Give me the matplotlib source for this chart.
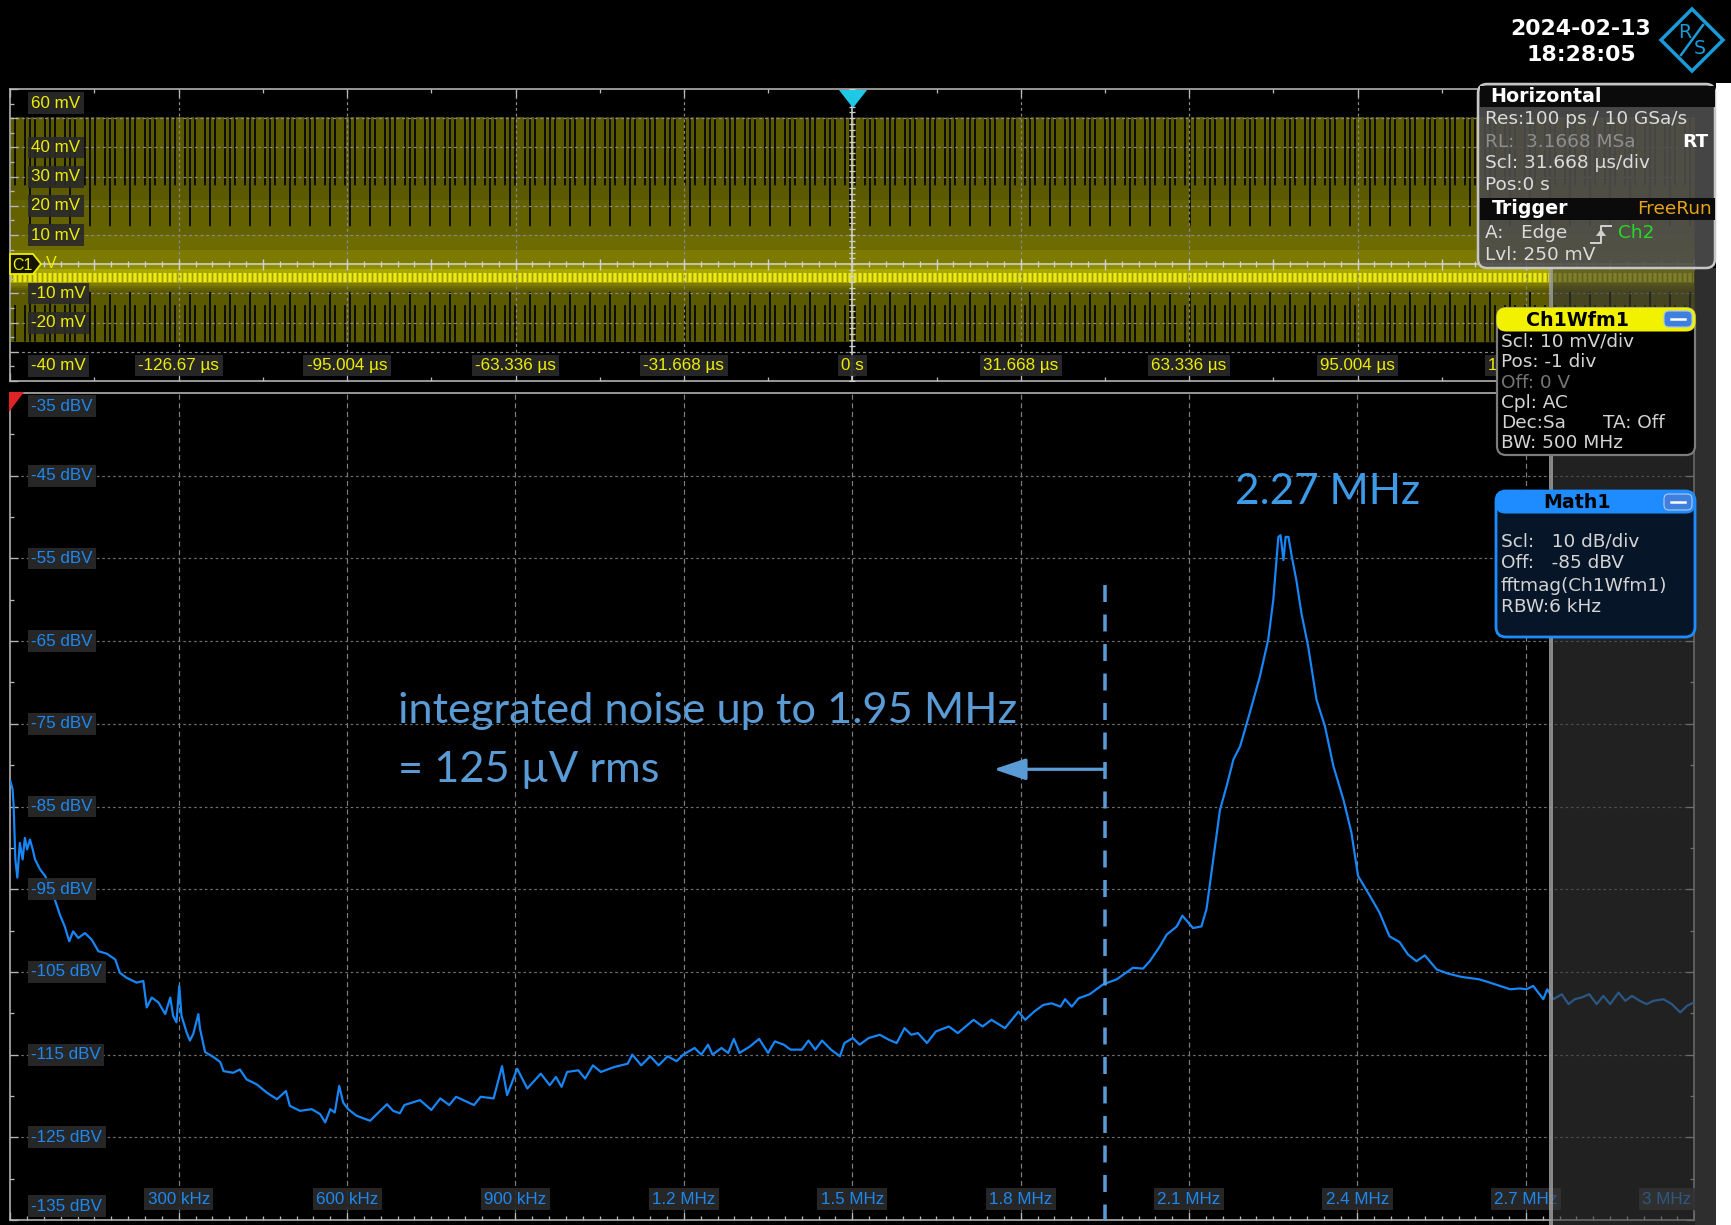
import numpy as np
import matplotlib
matplotlib.use("Agg")
import matplotlib.pyplot as plt
from matplotlib import transforms
from matplotlib.patches import Rectangle, FancyBboxPatch, Polygon

W, H, DPI = 1731, 1225, 120


def pt(px):
    # size in screen pixels -> points at the figure dpi
    return px * 72.0 / DPI


def fig_box(x0, y0, x1, y1):
    # pixel box (top-left origin) -> figure fraction rect
    return [x0 / W, 1 - y1 / H, (x1 - x0) / W, (y1 - y0) / H]


# ---------------- spectrum trace (fftmag Ch1Wfm1) ----------------
freq_mhz = [
    0.000, 0.004, 0.006, 0.009, 0.0125, 0.017, 0.022, 0.026, 0.030, 0.035,
    0.040, 0.044, 0.053, 0.062, 0.071, 0.080, 0.089, 0.097, 0.105, 0.112,
    0.121, 0.133, 0.145, 0.157, 0.172, 0.187, 0.195, 0.207, 0.225, 0.237,
    0.243, 0.252, 0.264, 0.276, 0.285, 0.290, 0.296, 0.301, 0.305, 0.314,
    0.320, 0.326, 0.335, 0.338, 0.347, 0.362, 0.374, 0.380, 0.397, 0.409,
    0.421, 0.439, 0.457, 0.475, 0.491, 0.498, 0.516, 0.537, 0.552, 0.561,
    0.570, 0.578, 0.586, 0.593, 0.602, 0.617, 0.641, 0.653, 0.671, 0.682,
    0.694, 0.702, 0.730, 0.750, 0.766, 0.782, 0.794, 0.826, 0.838, 0.861,
    0.876, 0.885, 0.893, 0.903, 0.921, 0.945, 0.961, 0.972, 0.982, 0.992,
    1.012, 1.024, 1.038, 1.052, 1.076, 1.100, 1.108, 1.124, 1.140, 1.155,
    1.171, 1.187, 1.199, 1.219, 1.231, 1.243, 1.251, 1.267, 1.279, 1.289,
    1.299, 1.318, 1.334, 1.350, 1.362, 1.378, 1.390, 1.410, 1.422, 1.434,
    1.446, 1.462, 1.478, 1.486, 1.501, 1.513, 1.529, 1.549, 1.565, 1.579,
    1.593, 1.605, 1.617, 1.633, 1.649, 1.672, 1.688, 1.716, 1.732, 1.748,
    1.772, 1.796, 1.808, 1.824, 1.840, 1.855, 1.871, 1.879, 1.891, 1.903,
    1.923, 1.939, 1.947, 1.971, 2.000, 2.018, 2.030, 2.048, 2.060, 2.078,
    2.088, 2.107, 2.122, 2.131, 2.143, 2.155, 2.167, 2.179, 2.191, 2.208,
    2.226, 2.241, 2.250, 2.259, 2.263, 2.268, 2.272, 2.277, 2.283, 2.291,
    2.300, 2.312, 2.327, 2.342, 2.357, 2.375, 2.389, 2.401, 2.422, 2.439,
    2.457, 2.475, 2.490, 2.505, 2.520, 2.541, 2.561, 2.585, 2.617, 2.636,
    2.654, 2.672, 2.689, 2.701, 2.713, 2.722, 2.731, 2.738, 2.749, 2.764,
    2.776, 2.787, 2.799, 2.813, 2.826, 2.838, 2.850, 2.865, 2.877, 2.889,
    2.903, 2.915, 2.927, 2.945, 2.960, 2.975, 2.987, 2.999,
]
level_dbv = [
    -81.9, -82.9, -85.0, -91.4, -93.6, -89.4, -91.4, -88.8, -90.2, -89.0,
    -90.2, -91.4, -92.6, -93.4, -94.6, -96.4, -98.2, -99.5, -101.3, -100.1,
    -100.9, -100.3, -101.1, -102.5, -102.8, -103.5, -105.1, -105.7, -106.3, -106.1,
    -109.3, -108.1, -108.7, -110.1, -108.1, -110.3, -111.1, -106.7, -110.3, -112.3,
    -113.3, -112.5, -110.1, -111.9, -114.7, -115.3, -115.9, -117.0, -117.2, -116.8,
    -118.0, -118.6, -119.6, -120.4, -119.4, -121.2, -121.8, -121.6, -122.2, -123.2,
    -121.6, -122.0, -118.8, -120.8, -121.6, -122.4, -123.0, -122.2, -121.0, -121.8,
    -122.1, -121.1, -120.5, -121.7, -120.3, -121.1, -120.1, -121.1, -120.1, -120.3,
    -116.4, -119.9, -118.5, -116.7, -119.1, -117.3, -118.7, -117.7, -118.9, -117.1,
    -116.9, -117.9, -116.3, -117.1, -116.5, -116.1, -115.0, -116.3, -115.2, -116.3,
    -115.2, -115.8, -115.0, -114.2, -115.0, -113.8, -115.0, -114.2, -114.8, -113.1,
    -114.8, -114.0, -113.1, -114.8, -113.4, -113.8, -114.4, -114.4, -113.3, -114.4,
    -113.3, -114.4, -115.2, -113.6, -113.0, -113.8, -113.0, -112.6, -113.2, -113.6,
    -111.8, -112.6, -112.4, -113.6, -112.2, -111.6, -112.4, -110.8, -111.6, -110.8,
    -111.8, -109.8, -110.8, -109.8, -109.0, -108.8, -109.2, -108.3, -109.2, -108.2,
    -107.7, -106.9, -106.5, -105.9, -104.5, -104.6, -103.7, -101.9, -100.5, -99.5,
    -98.2, -99.7, -99.5, -97.4, -91.4, -85.4, -82.5, -79.3, -77.7, -73.7,
    -69.3, -64.8, -60.0, -52.4, -52.2, -55.2, -52.4, -52.4, -54.8, -57.6,
    -61.6, -65.6, -72.1, -75.3, -80.1, -84.2, -88.1, -93.4, -95.8, -97.8,
    -100.7, -101.4, -102.9, -103.7, -103.0, -104.7, -105.2, -105.6, -105.9, -106.3,
    -106.7, -107.1, -107.0, -107.1, -106.7, -107.5, -108.3, -107.1, -108.3, -107.7,
    -108.9, -108.3, -108.1, -107.7, -108.9, -107.9, -108.9, -107.5, -108.5, -107.9,
    -108.5, -108.9, -108.5, -108.3, -108.9, -109.9, -109.1, -108.7,
]

# ---------------- time-domain persistence (Ch1Wfm1) ----------------
wave_t_us = [-158.34, -79.17, 0.0, 79.17, 158.34]
wave_top_mv = [50.5, 50.6, 50.4, 50.6, 50.5]
wave_bot_mv = [-26.5, -26.6, -26.4, -26.6, -26.5]
band_lo_mv, band_hi_mv = -6.0, -2.9

# ---------------- axis labels ----------------
time_div_us = 31.668
time_ticks_us = [-126.67, -95.004, -63.336, -31.668, 0.0, 31.668, 63.336, 95.004, 126.67]
time_labels = ['-126.67 µs', '-95.004 µs', '-63.336 µs', '-31.668 µs', '0 s',
               '31.668 µs', '63.336 µs', '95.004 µs', '126.67 µs']
volt_ticks_mv = [60, 40, 30, 20, 10, -10, -20, -40]
volt_labels = ['60 mV', '40 mV', '30 mV', '20 mV', '10 mV', '-10 mV', '-20 mV', '-40 mV']
db_ticks = [-35, -45, -55, -65, -75, -85, -95, -105, -115, -125, -135]
db_labels = ['-35 dBV', '-45 dBV', '-55 dBV', '-65 dBV', '-75 dBV', '-85 dBV',
             '-95 dBV', '-105 dBV', '-115 dBV', '-125 dBV', '-135 dBV']
freq_ticks_mhz = [0.3, 0.6, 0.9, 1.2, 1.5, 1.8, 2.1, 2.4, 2.7, 3.0]
freq_labels = ['300 kHz', '600 kHz', '900 kHz', '1.2 MHz', '1.5 MHz', '1.8 MHz',
               '2.1 MHz', '2.4 MHz', '2.7 MHz', '3 MHz']

cutoff_mhz = 1.95
cutoff_top_dbv = -58.2
arrow_tip_mhz = 1.752
arrow_dbv = -80.5

YEL = '#eeee00'
TRACE = '#1786f7'
LBLUE = '#1e88f0'
NOTE = '#5b9bd5'
GRID = '#8a8a8a'
SPINE = '#b8b8b8'
LBL_BG = '#2a2a2a'
SCOPE_FONT = ['Liberation Sans', 'DejaVu Sans']
PANEL_FONT = ['DejaVu Sans']

plt.rcParams['hatch.linewidth'] = 1.0
plt.rcParams['hatch.color'] = 'black'

fig = plt.figure(figsize=(W / DPI, H / DPI), dpi=DPI, facecolor='black')


def style_spines(ax, sides):
    for s, sp in ax.spines.items():
        sp.set_visible(s in sides)
        sp.set_color(SPINE)
        sp.set_linewidth(pt(1.6))


def scope_label(ax, text, xy, off, color, xycoords='data', ha='center', va='center'):
    ax.annotate(text, xy=xy, xycoords=xycoords, xytext=off, textcoords='offset pixels',
                ha=ha, va=va, color=color, fontsize=pt(17), family=SCOPE_FONT,
                bbox=dict(boxstyle='square,pad=0.2', fc=LBL_BG, ec='none', alpha=0.92),
                zorder=6, annotation_clip=False)


# ================= top panel: time domain =================
ax1 = fig.add_axes(fig_box(10.3, 89, 1694.3, 381), facecolor='black')
ax1.set_xlim(-5 * time_div_us, 5 * time_div_us)
ax1.set_ylim(-40, 60)
ax1.set_axisbelow(False)

ax1.fill_between(wave_t_us, wave_bot_mv, wave_top_mv, color='#5c5a00', lw=0, zorder=1)
for lo, hi, c in [(-9.0, 22.0, '#646200'), (-8.3, 10.0, '#6e6c00'),
                  (-7.3, 5.0, '#7c7a00'), (-6.6, 0.5, '#8e8c00'), (-6.3, -1.5, '#a8a600')]:
    ax1.fill_between(wave_t_us, lo, hi, color=c, lw=0, zorder=1)
ax1.fill_between(wave_t_us, band_lo_mv, band_hi_mv, facecolor='#ecea14', edgecolor='#9c9a00',
                 hatch='||||', lw=0, zorder=1.2)
# dark gaps of the persistence display
ax1.fill_between(wave_t_us, 27, wave_top_mv, facecolor='none', edgecolor='black', hatch='||', lw=0, zorder=1.5)
ax1.fill_between(wave_t_us, 13, wave_top_mv, facecolor='none', edgecolor='black', hatch='|', lw=0, zorder=1.5)
ax1.fill_between(wave_t_us, wave_bot_mv, -14, facecolor='none', edgecolor='black', hatch='||', lw=0, zorder=1.5)
ax1.fill_between(wave_t_us, wave_bot_mv, -9.5, facecolor='none', edgecolor='black', hatch='|', lw=0, zorder=1.5)

for k in range(-4, 5):
    if k != 0:
        ax1.axvline(k * time_div_us, color=GRID, lw=pt(1.2), dashes=(pt(4), pt(4)), zorder=2.5)
for v in range(-30, 60, 10):
    if v != 0:
        ax1.axhline(v, color=GRID, lw=pt(1.2), dashes=(pt(4), pt(4)), zorder=2.5)
ax1.axhline(0, color='#d0d0d0', lw=pt(1.6), zorder=3)
ax1.axvline(0, color='#d0d0d0', lw=pt(1.6), zorder=3)
tx = np.arange(-50, 51) * time_div_us / 10
ax1.plot(tx, np.zeros_like(tx), ls='', marker='|', ms=pt(6), mew=pt(1.3), color='#d0d0d0', zorder=3)
ax1.plot(tx[::5], np.zeros_like(tx[::5]), ls='', marker='|', ms=pt(11), mew=pt(1.3), color='#d0d0d0', zorder=3)
ty = np.arange(-40, 61, 2)
ax1.plot(np.zeros_like(ty), ty, ls='', marker='_', ms=pt(6), mew=pt(1.3), color='#d0d0d0', zorder=3)

ax1.set_xticks(np.arange(-5, 6) * time_div_us)
ax1.set_xticks(np.arange(-10, 11) * time_div_us / 2, minor=True)
ax1.set_yticks(np.arange(-40, 61, 10))
ax1.set_yticks(np.arange(-40, 61, 5), minor=True)
ax1.tick_params(which='both', direction='in', color=SPINE, width=pt(1.3),
                left=True, top=True, bottom=True, right=False,
                labelleft=False, labelbottom=False)
ax1.tick_params(which='major', length=pt(8))
ax1.tick_params(which='minor', length=pt(4))
style_spines(ax1, ('left', 'top', 'bottom'))

blend1 = transforms.blended_transform_factory(ax1.transAxes, ax1.transData)
for v, s in zip(volt_ticks_mv, volt_labels):
    dy = -14 if v == 60 else (15 if v == -40 else 0)
    scope_label(ax1, s, (0, v), (21, dy), YEL, xycoords=blend1, ha='left')
for t, s in zip(time_ticks_us, time_labels):
    scope_label(ax1, s, (t, -40), (0, 15.5), YEL)

# ================= bottom panel: FFT magnitude =================
ax2 = fig.add_axes(fig_box(10.3, 393, 1694.3, 1220), facecolor='black')
ax2.set_xlim(0, 3.0)
ax2.set_ylim(-135, -35)
ax2.set_axisbelow(False)

for f in freq_ticks_mhz[:-1]:
    ax2.axvline(f, color='#7e7e7e', lw=pt(1.2), dashes=(pt(7), pt(5)), zorder=2.5)
for d in range(-125, -35, 10):
    ax2.axhline(d, color='#707070', lw=pt(1.2), dashes=(pt(3.5), pt(4)), zorder=2.5)

ax2.plot(freq_mhz, level_dbv, color=TRACE, lw=pt(2.2), zorder=4)

ax2.set_xticks(np.arange(0, 11) * 0.3)
ax2.set_xticks(np.arange(0, 101) * 0.03, minor=True)
ax2.set_yticks(np.arange(-135, -34, 10))
ax2.set_yticks(np.arange(-135, -34, 5), minor=True)
ax2.tick_params(which='both', direction='in', color=SPINE, width=pt(1.3),
                left=True, bottom=True, top=False, right=True,
                labelleft=False, labelbottom=False)
ax2.tick_params(which='major', length=pt(8))
ax2.tick_params(which='minor', length=pt(4))
style_spines(ax2, ('left', 'top', 'bottom', 'right'))

blend2 = transforms.blended_transform_factory(ax2.transAxes, ax2.transData)
for d, s in zip(db_ticks, db_labels):
    dy = -13 if d == -35 else (14 if d == -135 else 0)
    scope_label(ax2, s, (0, d), (21, dy), LBLUE, xycoords=blend2, ha='left')
for f, s in zip(freq_ticks_mhz, freq_labels):
    if f == freq_ticks_mhz[-1]:
        scope_label(ax2, s, (f, -135), (-3, 21), LBLUE, ha='right')
    else:
        scope_label(ax2, s, (f, -135), (0, 21), LBLUE)

# integration limit and arrow
ax2.plot([cutoff_mhz, cutoff_mhz], [cutoff_top_dbv, -135], color=NOTE, lw=pt(3.5),
         dashes=(pt(17) / pt(3.5), pt(12.5) / pt(3.5)), zorder=5, clip_on=False)
ax2.annotate('', xy=(arrow_tip_mhz, arrow_dbv), xytext=(cutoff_mhz, arrow_dbv),
             arrowprops=dict(arrowstyle='-|>,head_length=0.8,head_width=0.27',
                             mutation_scale=pt(34), color=NOTE, lw=pt(3.2),
                             shrinkA=0, shrinkB=0), zorder=5)

# ================= overlay: dialogs, markers, annotations =================
ov = fig.add_axes([0, 0, 1, 1], zorder=10)
ov.set_xlim(0, W)
ov.set_ylim(H, 0)
ov.axis('off')
ov.patch.set_alpha(0)

# slide margin and signal bar
ov.add_patch(Rectangle((1716, 83), W - 1716, H - 83, fc='white', ec='none', zorder=0.5))
ov.add_patch(Rectangle((1551, 268), 1695 - 1551, H - 268, fc=(0.22, 0.22, 0.22, 0.6), ec='none', zorder=1))
ov.add_patch(Rectangle((1695, 268), 1716 - 1695, H - 268, fc='#2e2e2e', ec='none', zorder=1))
ov.plot([1551, 1551], [268, H], color='#9c9c9c', lw=pt(4), alpha=0.85, zorder=1.2)

# trigger / reference markers
ov.add_patch(Polygon([(839, 90), (867, 90), (853, 108)], closed=True, fc='#1fc9e6', ec='none', zorder=2))
ov.add_patch(Polygon([(9, 392), (24, 392), (9, 412)], closed=True, fc='#e02424', ec='none', zorder=2))
ov.add_patch(Polygon([(10, 254), (33, 254), (41, 264), (33, 274), (10, 274)], closed=True,
                     fc='#141400', ec=YEL, lw=pt(1.8), zorder=2))
ov.text(22, 265, 'C1', color=YEL, fontsize=pt(16), family=SCOPE_FONT, ha='center', va='center', zorder=3)
ov.text(46, 264, 'V', color=YEL, fontsize=pt(16), family=SCOPE_FONT, ha='left', va='center', zorder=3)

# date and logo
ov.text(1581, 29, '2024-02-13', color='white', fontsize=pt(22), family=PANEL_FONT,
        weight='bold', ha='center', va='center', zorder=3)
ov.text(1581, 55, '18:28:05', color='white', fontsize=pt(22), family=PANEL_FONT,
        weight='bold', ha='center', va='center', zorder=3)
ov.add_patch(Polygon([(1692, 9), (1723, 40), (1692, 71), (1661, 40)], closed=True,
                     fc='none', ec='#1a9ad6', lw=pt(3.5), joinstyle='miter', zorder=3))
ov.plot([1681, 1703], [55, 25], color='#1a9ad6', lw=pt(2.5), zorder=3)
ov.text(1685, 33, 'R', color='#1a9ad6', fontsize=pt(19), family=PANEL_FONT, ha='center', va='center', zorder=3)
ov.text(1700, 49, 'S', color='#1a9ad6', fontsize=pt(19), family=PANEL_FONT, ha='center', va='center', zorder=3)

# Horizontal / Trigger box
fs = pt(18.5)
ov.add_patch(FancyBboxPatch((1478, 84), 1715 - 1478, 268 - 84, boxstyle='round,pad=0,rounding_size=9',
                            fc=(0.30, 0.30, 0.30, 0.9), ec='#c6c6c6', lw=pt(2.5), zorder=2))
ov.add_patch(Rectangle((1480, 86), 1715 - 1480, 21, fc='#0b0b0b', ec='none', zorder=2.1))
ov.add_patch(Rectangle((1480, 198), 1715 - 1480, 22, fc='#0b0b0b', ec='none', zorder=2.1))
ov.text(1490, 97, 'Horizontal', color='white', fontsize=pt(19), weight='bold', family=PANEL_FONT,
        va='center', zorder=3)
for s, y, c in [('Res:100 ps / 10 GSa/s', 119, '#dcdcdc'), ('RL:  3.1668 MSa', 142, '#8e8e8e'),
                ('Scl: 31.668 µs/div', 163, '#dcdcdc'), ('Pos:0 s', 185, '#dcdcdc')]:
    ov.text(1485, y, s, color=c, fontsize=fs, family=PANEL_FONT, va='center', zorder=3)
ov.text(1708, 142, 'RT', color='white', fontsize=fs, weight='bold', family=PANEL_FONT,
        ha='right', va='center', zorder=3)
ov.text(1492, 209, 'Trigger', color='white', fontsize=pt(19), weight='bold', family=PANEL_FONT,
        va='center', zorder=3)
ov.text(1712, 209, 'FreeRun', color='#e8a317', fontsize=fs, family=PANEL_FONT, ha='right',
        va='center', zorder=3)
ov.text(1485, 233, 'A:   Edge', color='#dcdcdc', fontsize=fs, family=PANEL_FONT, va='center', zorder=3)
ov.plot([1591, 1601, 1601, 1611], [243, 243, 226, 226], color='#cfcfcf', lw=pt(2), zorder=3)
ov.add_patch(Polygon([(1596, 236), (1601, 229), (1606, 236)], closed=True, fc='#cfcfcf', ec='none', zorder=3))
ov.text(1618, 233, 'Ch2', color='#22dd22', fontsize=fs, family=PANEL_FONT, va='center', zorder=3)
ov.text(1485, 255, 'Lvl: 250 mV', color='#dcdcdc', fontsize=fs, family=PANEL_FONT, va='center', zorder=3)


def minus_button(y0):
    ov.add_patch(FancyBboxPatch((1664, y0), 28, 16, boxstyle='round,pad=0,rounding_size=5',
                                fc='#3f7fe0', ec='#a8c4f0', lw=pt(1.2), zorder=4))
    ov.plot([1671, 1685], [y0 + 8, y0 + 8], color='white', lw=pt(2.5), zorder=4.1)


# Ch1Wfm1 box
ov.add_patch(FancyBboxPatch((1497, 308), 1695 - 1497, 455 - 308, boxstyle='round,pad=0,rounding_size=9',
                            fc='black', ec='#7c7c7c', lw=pt(2.2), zorder=2))
ov.add_patch(FancyBboxPatch((1497, 308), 1695 - 1497, 23, boxstyle='round,pad=0,rounding_size=9',
                            fc='#f2f200', ec='#f2f200', lw=pt(1), zorder=2.2))
ov.text(1577, 320, 'Ch1Wfm1', color='black', fontsize=pt(19), weight='bold', family=PANEL_FONT,
        ha='center', va='center', zorder=3)
minus_button(311)
for s, y, c in [('Scl: 10 mV/div', 342, '#d4d4d4'), ('Pos: -1 div', 362, '#d4d4d4'),
                ('Off: 0 V', 383, '#767676'), ('Cpl: AC', 403, '#d4d4d4'),
                ('Dec:Sa', 423, '#d4d4d4'), ('BW: 500 MHz', 443, '#d4d4d4')]:
    ov.text(1501, y, s, color=c, fontsize=fs, family=PANEL_FONT, va='center', zorder=3)
ov.text(1603, 423, 'TA: Off', color='#d4d4d4', fontsize=fs, family=PANEL_FONT, va='center', zorder=3)

# Math1 box
ov.add_patch(FancyBboxPatch((1496, 491), 1695 - 1496, 637 - 491, boxstyle='round,pad=0,rounding_size=10',
                            fc='#061628', ec='#1e8cff', lw=pt(2.8), zorder=2))
ov.add_patch(FancyBboxPatch((1496, 491), 1695 - 1496, 22, boxstyle='round,pad=0,rounding_size=9',
                            fc='#1e8cff', ec='#1e8cff', lw=pt(1), zorder=2.2))
ov.text(1577, 502, 'Math1', color='black', fontsize=pt(19), weight='bold', family=PANEL_FONT,
        ha='center', va='center', zorder=3)
minus_button(494)
for s, y in [('Scl:   10 dB/div', 542), ('Off:   -85 dBV', 563),
             ('fftmag(Ch1Wfm1)', 586), ('RBW:6 kHz', 607)]:
    ov.text(1501, y, s, color='#d4d4d4', fontsize=fs, family=PANEL_FONT, va='center', zorder=3)

# slide annotations
t1 = ov.text(398, 723, 'integrated noise up to 1.95 MHz', color=NOTE, fontsize=pt(44),
             family=['Lato', 'DejaVu Sans'], va='baseline', zorder=3)
t2 = ov.text(398, 782, '= 125 µV rms', color=NOTE, fontsize=pt(44),
             family=['Lato', 'DejaVu Sans'], va='baseline', zorder=3)
t3 = ov.text(1328, 504, '2.27 MHz', color='#3d9ae6', fontsize=pt(44),
             family=['Lato', 'DejaVu Sans'], ha='center', va='baseline', zorder=3)

fig.canvas.draw()
r = fig.canvas.get_renderer()
k = 621.0 / t1.get_window_extent(r).width
t1.set_fontsize(t1.get_fontsize() * k)
t2.set_fontsize(t2.get_fontsize() * k)
t3.set_fontsize(t3.get_fontsize() * 185.0 / t3.get_window_extent(r).width)

fig.savefig('out.png', dpi=DPI, facecolor=fig.get_facecolor())
